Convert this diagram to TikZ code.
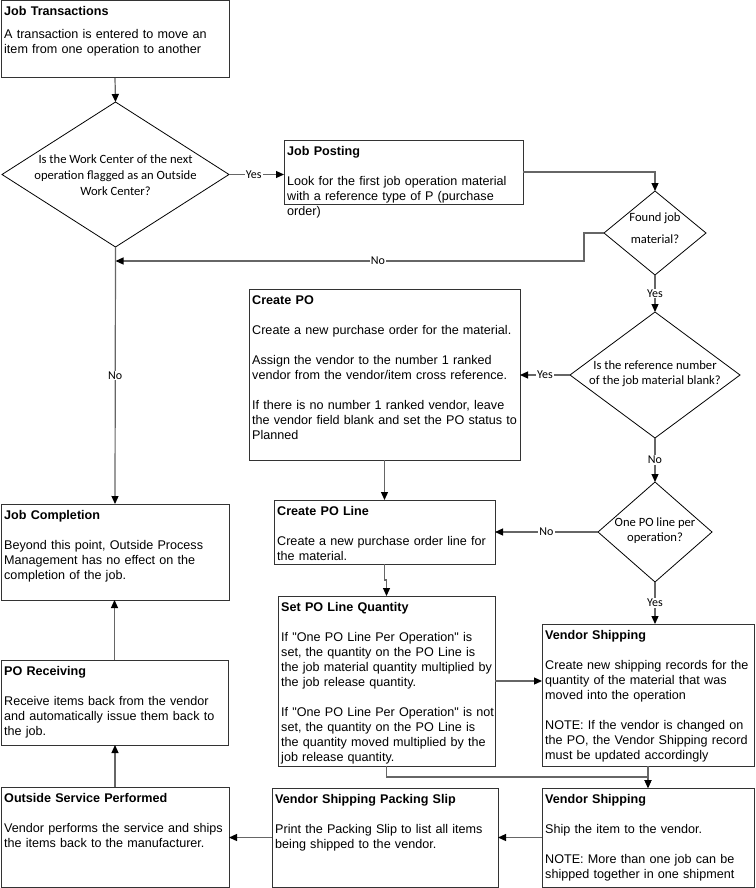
\documentclass[tikz,border=0pt]{standalone}
\usepackage{fontspec}
\setmainfont{Liberation Sans}[Ligatures=TeXOff]
\newfontfamily\calfont{Carlito}
\usetikzlibrary{shapes.geometric,arrows.meta}
\definecolor{linec}{HTML}{666666}
\definecolor{bord}{HTML}{333333}
\newcommand\pbox[8]{% name, x, y, w, h, gap, title, body
  \node[boxs,minimum width=#4pt,minimum height=#5pt] (#1) at (#2,#3) {};
  \node[txt,text width=#4pt-2pt] (#1t) at ([shift={(3,15)}]#1.north west) {\textbf{#7}\\[#6]#8};
}
\begin{document}
\begin{tikzpicture}[x=1pt,y=-1pt,
  boxs/.style={draw=bord,line width=1pt,inner sep=0,outer sep=0,anchor=north west},
  dia/.style={draw=black,line width=0.8pt,shape=diamond,inner sep=0,outer sep=0},
  txt/.style={anchor=base west,align=left,inner sep=0,font=\fontsize{12.6}{15}\selectfont},
  dtxt/.style={align=center,inner sep=0,font=\calfont\fontsize{12.6}{15}\selectfont},
  lbl/.style={fill=white,inner sep=1pt,font=\calfont\fontsize{12}{14}\selectfont},
  conn/.style={draw=linec,line width=1.2pt,-{Triangle[length=8pt,width=7pt,color=black]}},
]
\useasboundingbox[fill=white] (0,0) rectangle (755,888);

% boxes
\pbox{jt}{1}{1}{228}{77}{8pt}{Job Transactions}{A transaction is entered to move an\\item from one operation to another}
\pbox{jp}{284}{140}{239}{64}{15pt}{Job Posting}{Look for the first job operation material\\with a reference type of P (purchase\\order)}
\pbox{cpo}{249}{289}{271}{171}{15pt}{Create PO}{Create a new purchase order for the material.\\[15pt]Assign the vendor to the number 1 ranked\\vendor from the vendor/item cross reference.\\[15pt]If there is no number 1 ranked vendor, leave\\the vendor field blank and set the PO status to\\Planned}
\pbox{cpl}{274}{500}{221}{64}{15pt}{Create PO Line}{Create a new purchase order line for\\the material.}
\pbox{spq}{278}{596}{217}{170}{15pt}{Set PO Line Quantity}{If "One PO Line Per Operation" is\\set, the quantity on the PO Line is\\the job material quantity multiplied by\\the job release quantity.\\[15pt]If "One PO Line Per Operation" is not\\set, the quantity on the PO Line is\\the quantity moved multiplied by the\\job release quantity.}
\pbox{vsa}{542}{624}{212}{142}{15pt}{Vendor Shipping}{Create new shipping records for the\\quantity of the material that was\\moved into the operation\\[15pt]NOTE: If the vendor is changed on\\the PO, the Vendor Shipping record\\must be updated accordingly}
\pbox{vsb}{542}{788}{212}{99}{15pt}{Vendor Shipping}{Ship the item to the vendor.\\[15pt]NOTE: More than one job can be\\shipped together in one shipment}
\pbox{vsps}{272}{788}{226}{99}{15pt}{Vendor Shipping Packing Slip}{Print the Packing Slip to list all items\\being shipped to the vendor.}
\pbox{osp}{1}{787}{228}{100}{15pt}{Outside Service Performed}{Vendor performs the service and ships\\the items back to the manufacturer.}
\pbox{por}{1}{660}{227}{85}{15pt}{PO Receiving}{Receive items back from the vendor\\and automatically issue them back to\\the job.}
\pbox{jc}{1}{504}{228}{96}{15pt}{Job Completion}{Beyond this point, Outside Process\\Management has no effect on the\\completion of the job.}

% decisions
\node[dia,minimum width=227pt,minimum height=145pt] (da) at (115.5,174.5) {};
\node[dtxt] (dat) at (115.5,175) {Is the Work Center of the next\\[1.3pt]operation flagged as an Outside\\[1.3pt]Work Center?};
\node[dia,minimum width=102pt,minimum height=84pt] (db) at (655,233) {};
\node[dtxt] (dbt) at (655,228) {Found job\\[7pt]material?};
\node[dia,minimum width=170pt,minimum height=126pt] (dc) at (655,375) {};
\node[dtxt] (dct) at (655,374) {Is the reference number\\of the job material blank?};
\node[dia,minimum width=114pt,minimum height=100pt] (dd) at (655,532) {};
\node[dtxt] (ddt) at (655,531) {One PO line per\\operation?};

\coordinate (nojoin) at (115.5,261);

% connectors
\draw[conn] (jt.south) -- (da.north);
\draw[conn] (da.east) -- node[lbl,pos=0.45]{Yes} (da.east -| jp.west);
\draw[conn] (jp.east) -| (db.north);
\draw[conn] (db.west) -- ++(-20,0) |- (nojoin);
\node[lbl] (nolbl) at (378,261) {No};
\draw[conn] (da.south) -- node[lbl]{No} (jc.north);
\draw[conn] (db.south) -- node[lbl]{Yes} (dc.north);
\draw[conn] (dc.west) -- node[lbl]{Yes} (cpo.east |- dc.west);
\draw[conn] (cpo.south) -- (cpl.north);
\draw[conn] (dc.south) -- node[lbl]{No} (dd.north);
\draw[conn] (dd.west) -- node[lbl]{No} (cpl.east |- dd.west);
\draw[conn] (dd.south) -- node[lbl]{Yes} (dd.south |- vsa.north);
\draw[conn] (cpl.south) -- ++(0,16) -| (spq.north);
\draw[conn] (spq.east) -- (vsa.west |- spq.east);
\draw[conn] (spq.south) -- ++(0,11) -| (vsb.north);
\draw[conn] (vsa.south) -- (vsb.north);
\draw[conn] (vsb.west) -- (vsps.east);
\draw[conn] (vsps.west) -- (osp.east |- vsps.west);
\draw[conn] (osp.north) -- (osp.north |- por.south);
\draw[conn] (por.north) -- (por.north |- jc.south);
\end{tikzpicture}
\end{document}
